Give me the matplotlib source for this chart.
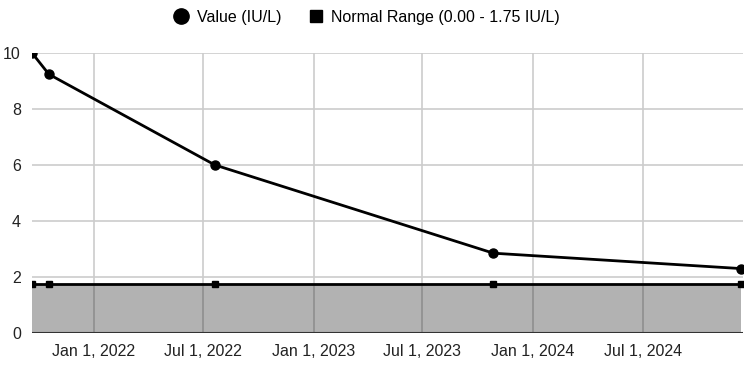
import numpy as np
import pandas as pd
import matplotlib
matplotlib.use("Agg")
import matplotlib.pyplot as plt
import matplotlib.dates as mdates
from matplotlib.lines import Line2D

plt.rcParams['font.family'] = ['Liberation Sans', 'DejaVu Sans']

# data
dates = pd.to_datetime(["2021-09-20", "2021-10-18", "2022-07-21", "2023-10-27", "2024-12-12"])
values = [10.0, 9.24, 6.0, 2.85, 2.3]
normal_low = 0.0
normal_high = 1.75
tick_dates = pd.to_datetime(["2022-01-01", "2022-07-01", "2023-01-01", "2023-07-01", "2024-01-01", "2024-07-01"])
tick_labels = ["Jan 1, 2022", "Jul 1, 2022", "Jan 1, 2023", "Jul 1, 2023", "Jan 1, 2024", "Jul 1, 2024"]
y_ticks = [0, 2, 4, 6, 8, 10]

fig = plt.figure(figsize=(7.5, 3.68), dpi=100)
ax = fig.add_axes([0.0427, 0.0951, 0.948, 0.761])

# gridlines
for t in tick_dates:
    ax.axvline(t, color="#cccccc", lw=1.2, zorder=0)
for y in y_ticks[1:]:
    ax.axhline(y, color="#cccccc", lw=1.2, zorder=0)

# normal range band
ax.fill_between(dates, normal_low, normal_high, color="black", alpha=0.3, lw=0, zorder=1)
ax.plot(dates, [normal_high] * len(dates), color="black", lw=2, marker="s", ms=5, zorder=3)

# values
ax.plot(dates, values, color="black", lw=2, marker="o", ms=6.5, zorder=4)

ax.axhline(0, color="#333333", lw=1.5, zorder=5)

ax.set_xlim(dates[0], dates[-1] + pd.Timedelta(days=3))
ax.set_ylim(0, 10)
ax.set_xticks(tick_dates)
ax.set_xticklabels(tick_labels)
ax.set_yticks(y_ticks)
ax.tick_params(length=0, labelsize=11.5, colors="#222222", pad=8)
ax.tick_params(axis="y", pad=8)
for s in ax.spines.values():
    s.set_visible(False)

handles = [
    Line2D([], [], color="black", marker="o", ms=11, lw=0),
    Line2D([], [], color="black", marker="s", ms=8, lw=0),
]
fig.legend(handles, ["Value (IU/L)", "Normal Range (0.00 - 1.75 IU/L)"],
           loc="center", bbox_to_anchor=(0.488, 0.953), ncol=2, frameon=False,
           fontsize=11.5, handletextpad=0.35, columnspacing=1.6, handlelength=1.2)

fig.savefig("out.png", dpi=100)
